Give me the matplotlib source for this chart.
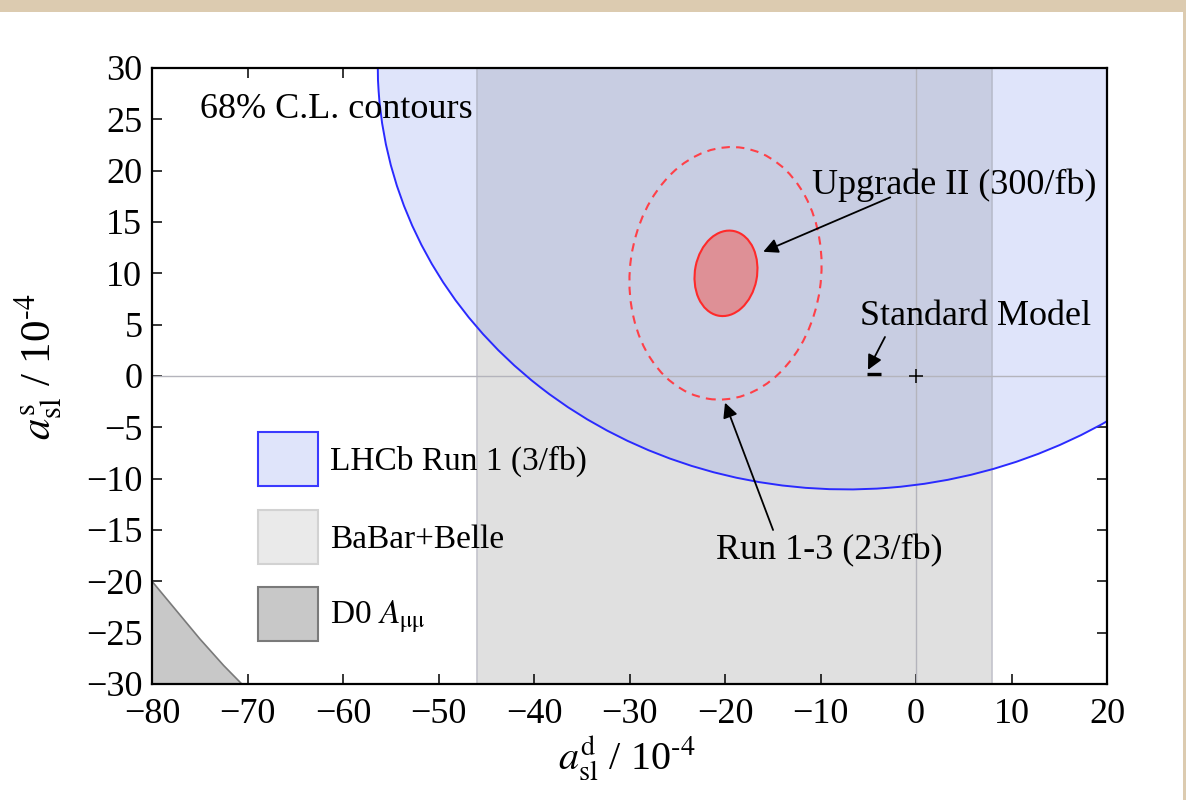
import matplotlib
matplotlib.use("Agg")
import matplotlib.pyplot as plt
import numpy as np
from matplotlib.patches import Ellipse, Polygon, Rectangle

plt.rcParams['font.family'] = ['Liberation Serif', 'DejaVu Serif']
plt.rcParams['mathtext.fontset'] = 'stix'

# regions / contours (units of 1e-4)
lhcb_center = (-5.96, 31.45)
lhcb_size = (100.9, 84.9)
lhcb_angle = 4.2

babar_band = (-46.0, 8.0)

d0_x = [-80.0, -80.0, -77.5, -75.0, -72.5, -70.6]
d0_y = [-30.0, -20.0, -22.8, -25.6, -28.2, -30.0]

run13_center = (-19.95, 10.0)
run13_size = (20.0, 24.7)
run13_angle = -8.8

upg2_center = (-19.9, 10.0)
upg2_size = (6.5, 8.4)
upg2_angle = -12

sm_x = [-5.1, -3.7]
sm_y = [0.2, 0.2]

xticks = np.arange(-80, 21, 10)
yticks = np.arange(-30, 31, 5)

legend_labels = ['LHCb Run 1 (3/fb)', 'BaBar+Belle', r'D0 $A_{\mathrm{μμ}}$']
legend_face = ['#dfe4fa', '#eaeaea', '#c8c8c8']
legend_edge = ['#3a3aff', '#d2d2d2', '#7a7a7a']

fig = plt.figure(figsize=(11.86, 8.0), dpi=100)
ax = fig.add_axes([0.1282, 0.145, 0.8052, 0.770])

# babar band
ax.axvspan(babar_band[0], babar_band[1], color='#e0e0e0', zorder=1, lw=0)
for xb in babar_band:
    ax.axvline(xb, color='#c4c4cc', lw=1.2, zorder=1.5)

# LHCb run 1
ell = Ellipse(lhcb_center, lhcb_size[0], lhcb_size[1], angle=lhcb_angle,
              facecolor='#dfe4fa', edgecolor='none', zorder=2)
ax.add_patch(ell)
ov = Rectangle((babar_band[0], -100), babar_band[1] - babar_band[0], 200,
               facecolor='#c8cde2', edgecolor='none', zorder=2.1)
ax.add_patch(ov)
ov.set_clip_path(ell)
for xb in babar_band:
    ln = ax.axvline(xb, color='#b8bccc', lw=1.2, zorder=2.2)
    ln.set_clip_path(ell)
ax.add_patch(Ellipse(lhcb_center, lhcb_size[0], lhcb_size[1], angle=lhcb_angle,
                     facecolor='none', edgecolor='#2a2aff', lw=1.4, zorder=4))

# D0
ax.add_patch(Polygon(np.column_stack([d0_x, d0_y]), closed=True,
                     facecolor='#c8c8c8', edgecolor='#7a7a7a', lw=1.2, zorder=3))

# axes lines
ax.axhline(0, color='#b4b4bc', lw=1.0, zorder=2.5)
ax.axvline(0, color='#b4b4bc', lw=1.0, zorder=2.5)

# projections
ax.add_patch(Ellipse(run13_center, run13_size[0], run13_size[1], angle=run13_angle,
                     facecolor='none', edgecolor='#ff4048', lw=1.5, ls=(0, (4, 3)), zorder=5))
ax.add_patch(Ellipse(upg2_center, upg2_size[0], upg2_size[1], angle=upg2_angle,
                     facecolor='#de9096', edgecolor='#ff2a2a', lw=1.5, zorder=5))

# standard model
ax.plot(sm_x, sm_y, color='k', lw=2.4, zorder=6, solid_capstyle='butt')
ax.plot([0], [0], marker='+', color='k', ms=10, mew=1.1, zorder=6)

fs = 26
ax.text(-74.97, 25.1, '68% C.L. contours', fontsize=fs, va='baseline', zorder=7)
ax.text(-10.9, 17.7, 'Upgrade II (300/fb)', fontsize=fs, va='baseline', zorder=7)
ax.text(-5.86, 4.97, 'Standard Model', fontsize=fs, va='baseline', zorder=7)
ax.text(-20.94, -17.9, 'Run 1-3 (23/fb)', fontsize=fs, va='baseline', zorder=7)

aprops = dict(arrowstyle='-|>', color='k', lw=1.3, mutation_scale=22, shrinkA=0, shrinkB=0)
ax.annotate('', xy=(-16.0, 12.1), xytext=(-2.7, 17.4), arrowprops=aprops, zorder=7)
ax.annotate('', xy=(-5.03, 0.6), xytext=(-3.25, 3.8), arrowprops=aprops, zorder=7)
ax.annotate('', xy=(-20.0, -2.6), xytext=(-14.97, -15.0), arrowprops=aprops, zorder=7)

# legend, drawn by hand in axes coordinates
row_bottom = [0.3214, 0.1948, 0.0698]
for lab, fc, ec, yb in zip(legend_labels, legend_face, legend_edge, row_bottom):
    ax.add_patch(Rectangle((0.111, yb), 0.0628, 0.0877, transform=ax.transAxes,
                           facecolor=fc, edgecolor=ec, lw=1.5, zorder=8))
    ax.text(0.1864, yb + 0.0877 / 2 - 0.004, lab, transform=ax.transAxes,
            fontsize=24, va='center', ha='left', zorder=8)

ax.set_xlim(-80, 20)
ax.set_ylim(-30, 30)
ax.set_xticks(xticks)
ax.set_yticks(yticks)
ax.tick_params(direction='in', length=7, width=1.1, top=True, right=True,
               labelsize=26, pad=7)
ax.tick_params(axis='x', pad=10)
for s in ax.spines.values():
    s.set_linewidth(1.6)
    s.set_zorder(9)

ax.set_xlabel(r'$a_{\mathrm{sl}}^{\mathrm{d}}$ / 10$^{\text{-4}}$', fontsize=29)
ax.set_ylabel(r'$a_{\mathrm{sl}}^{\mathrm{s}}$ / 10$^{\text{-4}}$', fontsize=31)
ax.xaxis.set_label_coords(0.497, -0.08)
ax.yaxis.set_label_coords(-0.092, 0.515)

# paper-ish border at top and right
fig.patches.append(Rectangle((0, 1 - 12 / 800), 1, 12 / 800, transform=fig.transFigure,
                             facecolor='#dccbb0', edgecolor='none'))
fig.patches.append(Rectangle((1183 / 1186, 0), 3 / 1186, 1, transform=fig.transFigure,
                             facecolor='#dccbb0', edgecolor='none'))

fig.savefig('out.png', dpi=100)
